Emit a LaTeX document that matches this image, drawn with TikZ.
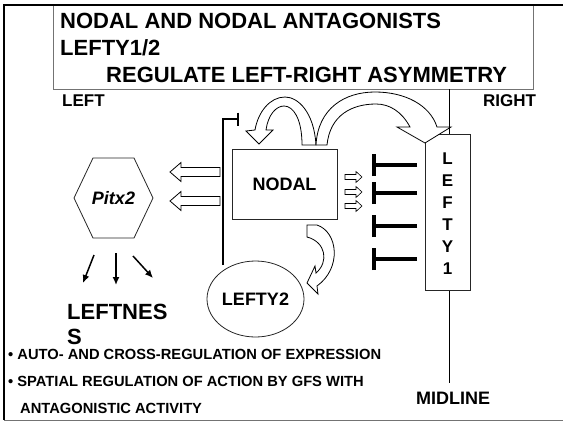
\documentclass[tikz,border=0pt]{standalone}
\usepackage{fontspec}
\setmainfont{Liberation Sans}
\usetikzlibrary{arrows.meta,shapes.geometric}
\begin{document}
\begin{tikzpicture}[x=1pt,y=-1pt,
  lbl/.style={font=\bfseries\fontsize{#1}{#1}\selectfont, inner sep=0pt},
  thin box/.style={draw=black!85, line width=0.8pt},
  hollow/.style={draw=black, fill=white, line width=0.8pt, line join=miter},
  inhib/.style={line width=3.5pt, -{Bar[width=22pt]}},
  outarrow/.style={line width=1.5pt, -{Latex[length=8pt,width=7pt]}}]
\useasboundingbox (0,0) rectangle (563,424);
% title box and frame
\draw[draw=black!55, line width=1pt] (53,5) rectangle (533,89);
\draw[line width=2pt] (563,4.5) -- (4,4.5) -- (4,420);
\draw[draw=black!55, line width=1pt] (4,420) -- (563,420);
\node[lbl=22, anchor=base west] (t1) at (60,28) {NODAL AND NODAL ANTAGONISTS};
\node[lbl=22, anchor=base west] (t2) at (60,55) {LEFTY1/2};
\node[lbl=22, anchor=base west] (t3) at (106,82) {REGULATE LEFT-RIGHT ASYMMETRY};
\node[lbl=17, anchor=base west] (left) at (62,106) {LEFT};
\node[lbl=17, anchor=base west] (right) at (483,106) {RIGHT};
% midline
\coordinate (mtop) at (449,89);
\coordinate (mbot) at (449,383);
\draw[line width=0.8pt] (mtop) -- (mbot);
% LEFTY1 box
\node[thin box, fill=white, minimum width=45pt, minimum height=156pt, anchor=north west] (lefty1) at (425,134) {};
\node[font=\bfseries\fontsize{17}{21.9}\selectfont, align=center, inner sep=0pt] (l1text) at (447.5,213.8) {L\\E\\F\\T\\Y\\1};
% NODAL box
\node[thin box, minimum width=105pt, minimum height=70pt, lbl=18] (nodal) at (284.5,184) {NODAL};
% LEFTY2
\node[thin box, ellipse, minimum width=97pt, minimum height=76pt, lbl=18] (lefty2) at (255.5,299) {LEFTY2};
% Pitx2 hexagon
\node[font=\bfseries\itshape\fontsize{18}{18}\selectfont, inner sep=0pt] (pitx) at (113.5,198) {Pitx2};
\draw[thin box] (74,198) -- (93,158) -- (134,158) -- (153,198) -- (134,238) -- (93,238) -- cycle;
% outputs of Pitx2
\draw[outarrow] (94,255) -- (83,283);
\draw[outarrow] (116,253) -- (116,285);
\draw[outarrow] (133,256) -- (153,278);
\node[lbl=22, anchor=base west] (leftness) at (67,319) {LEFTNES};
\node[lbl=22, anchor=base west] (leftnessS) at (67,344) {S};
% inhibition line from LEFTY2 to NODAL
\coordinate (ib) at (223,265);
\coordinate (ic) at (223,119);
\coordinate (ie) at (239,119);
\draw[line width=2.5pt, -{Bar[width=13pt]}] (ib) -- (ic) -- (ie);
% hollow arrows to Pitx2
\foreach \yy in {172,201}{
  \draw[hollow] (170,\yy) -- (181,\yy-9.5) -- (181,\yy-4.5) -- (220,\yy-4.5) -- (220,\yy+4.5) -- (181,\yy+4.5) -- (181,\yy+9.5) -- cycle;
}
% small hollow arrows right of NODAL
\foreach \yy in {177,192,206}{
  \draw[hollow, line width=0.6pt] (345,\yy-2.5) -- (356,\yy-2.5) -- (356,\yy-5.5) -- (362,\yy) -- (356,\yy+5.5) -- (356,\yy+2.5) -- (345,\yy+2.5) -- cycle;
}
% LEFTY1 inhibitions
\foreach \yy in {165,193,226,259}{
  \draw[inhib] (417,\yy) -- (372,\yy);
}
% auto-regulation arch
\draw[hollow] (316,145) .. controls (314,112) and (298,97) .. (285,97)
  .. controls (270,97) and (258,112) .. (255,130)
  -- (246,131) -- (259,144) -- (273,130) -- (266,130)
  .. controls (268,115) and (276,106) .. (284,106)
  .. controls (293,106) and (302,118) .. (302,145) -- cycle;
% big arch to LEFTY1
\draw[hollow] (316,145) .. controls (318,108) and (345,92) .. (375,92)
  .. controls (405,92) and (430,105) .. (437,127)
  -- (451,127) -- (425,143) -- (397,127) -- (410,127)
  .. controls (402,112) and (390,104) .. (376,104)
  .. controls (352,104) and (330,115) .. (327,145) -- cycle;
% NODAL -> LEFTY2 curved arrow
\draw[hollow] (307,225) -- (317,225) .. controls (338,232) and (342,268) .. (317,286)
  -- (318,294) -- (307,283) -- (315,266) -- (316,273)
  .. controls (329,262) and (326,242) .. (307,237) -- cycle;
% bottom text
\node[lbl=14.7, anchor=base west] (b1) at (8,359) {• AUTO- AND CROSS-REGULATION OF EXPRESSION};
\node[lbl=14.7, anchor=base west] (b2) at (8,386) {• SPATIAL REGULATION OF ACTION BY GFS WITH};
\node[lbl=14.7, anchor=base west] (b3) at (20,413) {ANTAGONISTIC ACTIVITY};
\node[lbl=18, anchor=base west] (midline) at (416,404) {MIDLINE};
\end{tikzpicture}
\end{document}
